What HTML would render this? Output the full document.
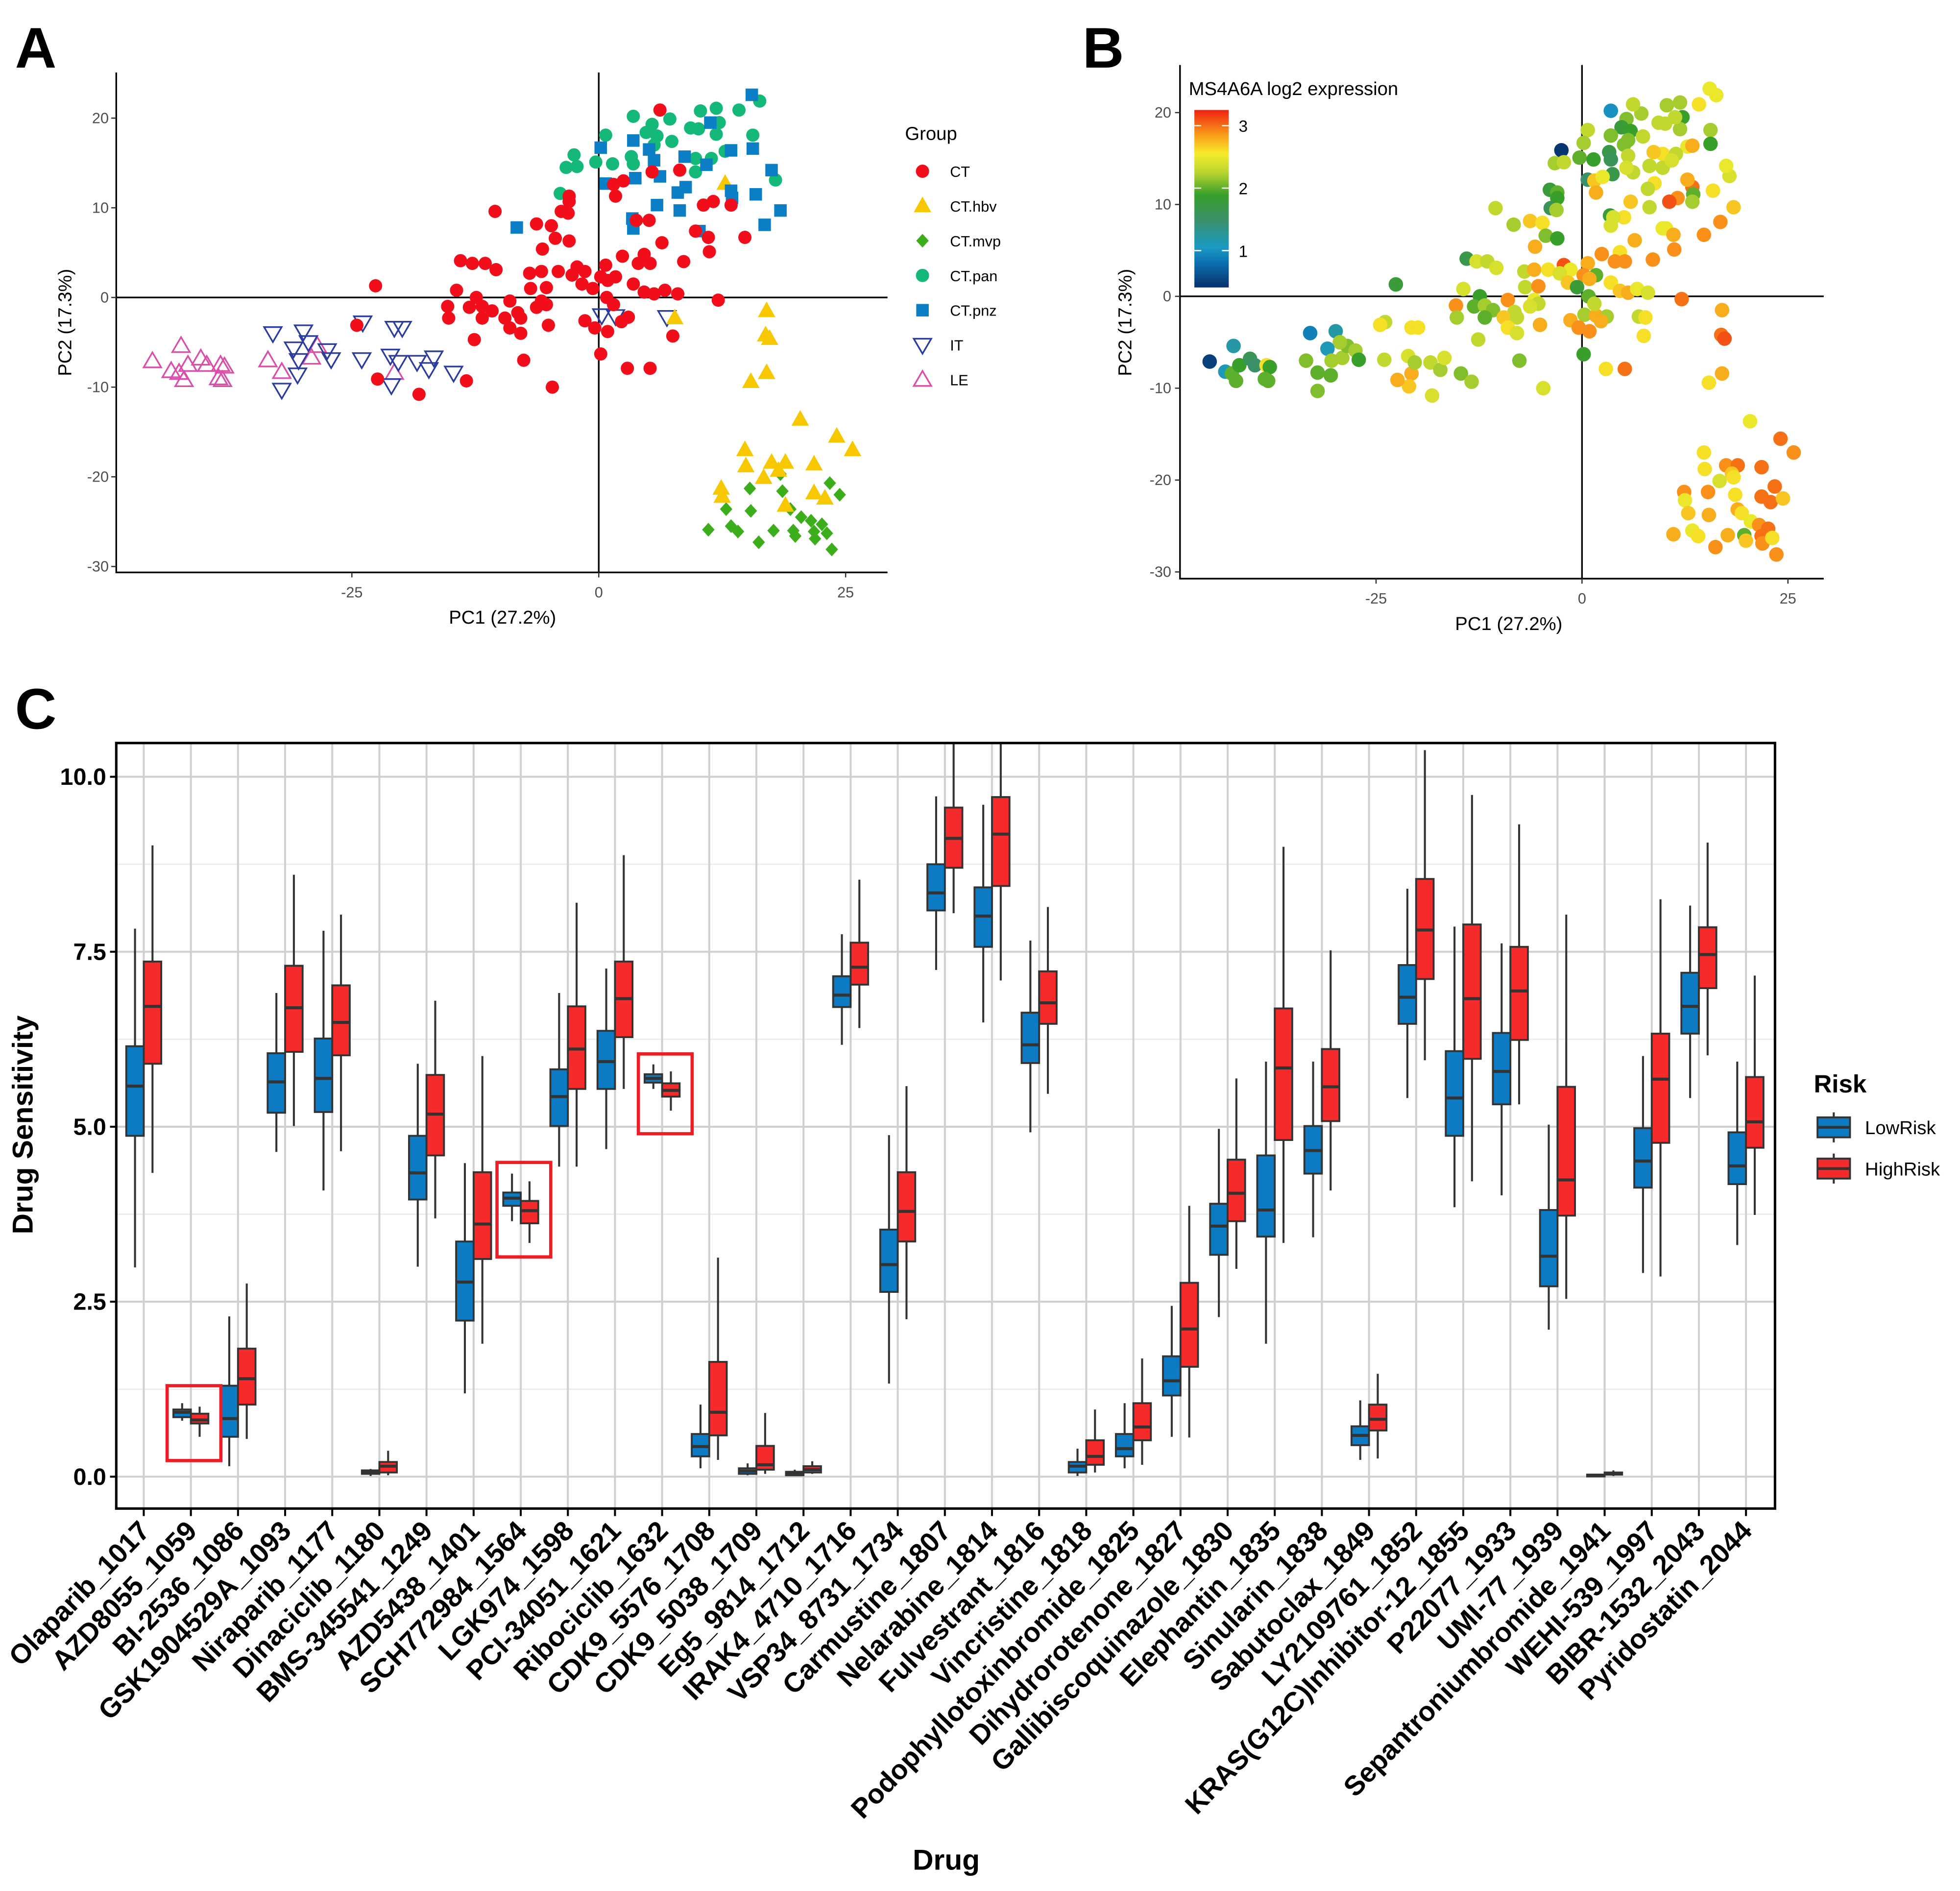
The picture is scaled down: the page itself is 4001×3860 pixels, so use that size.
<!DOCTYPE html>
<html><head><meta charset="utf-8"><style>
html,body{margin:0;padding:0;background:#fff;}
svg{display:block;font-family:"Liberation Sans",Arial,sans-serif;}
</style></head><body>
<svg id="fig" xmlns="http://www.w3.org/2000/svg" width="4001" height="3860" viewBox="0 0 1568 1513" preserveAspectRatio="none">
<rect x="0" y="0" width="1568" height="1513" fill="#fff"/>
<text x="12" y="54" font-size="46" font-weight="bold">A</text>
<text x="866" y="54" font-size="46" font-weight="bold">B</text>
<text x="12" y="583" font-size="46" font-weight="bold">C</text>
<g id="pa"></g>
<g id="pb"></g>
<g id="pc"></g>
</svg>
<script>
// ---------- Panel A/B data: [PC1, PC2, MS4A6A expression] ----------
const groupNames = ["CT","CT.hbv","CT.mvp","CT.pan","CT.pnz","IT","LE"];
const ptsCT = [[6.2,20.9,2.3],[-10.5,9.6,2.3],[-3,11.3,2.0],[-3,10.7,1.9],[-3.8,9.6,1.6],[-3.1,9.4,2.2],[-6.3,8.2,2.7],[-4.8,8,2.6],[-4.4,6.6,2.1],[-3,6.3,1.9],[-5.7,5.4,2.8],[1.5,12.6,2.7],[1.7,11.3,2.8],[2.5,13,2.5],[5.4,14,2.4],[8.2,14.2,2.3],[11.6,10.7,2.9],[10.6,10.3,3.1],[13.4,10.3,2.2],[9.8,7.4,2.5],[11.1,6.7,2.8],[14.8,6.7,2.9],[6.4,6.1,2.8],[11.2,5.1,2.9],[5.1,8.6,2.6],[3.8,8.6,2.4],[2.4,4.6,2.9],[4.6,4.8,2.6],[4,3.8,2.9],[5.2,3.8,2.9],[8.6,4,2.9],[-14,4.1,1.7],[-12.8,3.8,2.4],[-11.5,3.8,2.3],[-10.4,3.1,2.4],[-22.6,1.3,1.8],[-7,2.7,2.3],[-5.8,2.9,2.8],[-4.1,2.9,2.6],[-2.2,3.4,3.1],[-1.4,2.9,2.5],[-2.7,2.5,2.4],[0.7,3.6,2.8],[0.2,2.3,2.9],[1.7,2.3,2.0],[0.9,1.9,2.8],[-1.7,1.5,2.7],[-6.9,1,2.3],[-5.3,1.1,2.9],[-0.6,1,1.8],[3.5,1.5,2.6],[4.6,0.6,2.7],[5.6,0.4,2.8],[6.7,0.8,2.5],[8,0.4,2.4],[12.1,-0.3,3.0],[0.8,0,2.0],[-14.4,0.8,2.4],[-12.4,0,1.9],[-9,-0.4,2.9],[-5.8,-0.4,2.5],[-5.3,-0.8,2.3],[-15.3,-1,2.9],[-13.1,-1.1,2.0],[-11.8,-1,2.2],[-10.8,-1.5,2.1],[-8.2,-1.7,2.3],[-6.3,-1.1,2.4],[1.5,-0.8,2.3],[-15.2,-2.3,2.2],[-11.8,-2.3,2.0],[-9.5,-2.3,2.7],[-7.9,-2.3,2.3],[-5.1,-3.1,2.8],[-9,-3.4,2.6],[-7.9,-4,2.4],[-1.4,-2.6,2.8],[-0.4,-3.4,2.9],[0.9,-3.8,2.9],[3,-2.2,2.2],[2.3,-2.7,2.8],[7.5,-4.3,2.6],[-12.6,-4.7,2.3],[-24.5,-3.1,2.6],[0.2,-6.3,1.9],[-7.6,-7,2.1],[2.9,-7.9,2.6],[5.2,-7.9,3.0],[-22.4,-9.1,2.8],[-13.4,-9.3,2.2],[-4.7,-10,2.4],[-18.2,-10.8,2.4]];
const ptsPan = [[3.5,20.2,1.0],[10.3,20.8,2.2],[11.9,21.1,2.2],[14.2,20.9,2.6],[16.3,21.9,2.5],[5.4,19.3,2.1],[7.2,19.9,2.2],[9.3,18.9,2.3],[10.1,18.8,2.3],[12.2,19.5,1.9],[11.9,18.2,2.2],[15.6,18.1,2.2],[0.7,18.1,2.3],[4.8,18.4,1.8],[5.9,18,1.9],[7.4,17.4,2.3],[5.6,17,2.1],[12.8,16.3,2.5],[-2.5,15.9,0.45],[3.3,15.7,1.7],[9.8,15.5,2.6],[11.4,15.5,2.3],[-3.3,14.5,2.2],[-2.2,14.6,2.3],[-0.3,15.1,2.0],[1.4,14.9,1.9],[3.5,14.9,1.6],[9.8,14,2.3],[17.9,13.1,2.4],[-3.9,11.6,1.8]];
const ptsPnz = [[15.5,22.6,2.5],[11.3,19.5,2.3],[3.5,17.5,2.1],[0.2,16.7,2.2],[5.1,16.5,2.1],[5.6,15.3,2.3],[8.7,15.7,2.7],[13.4,16.4,2.8],[15.6,16.6,1.9],[10.9,14.8,2.4],[17.5,14.2,2.5],[0.7,12.7,1.5],[3.7,13.3,1.7],[6.2,13.5,2.3],[8.8,12.3,2.6],[8,11.7,2.3],[13.4,11.9,3.0],[13.5,11.1,2.0],[15.9,11.5,2.6],[5.9,10.3,2.7],[8.2,9.7,2.3],[18.4,9.7,2.7],[3.4,8.8,1.8],[3.5,7.7,2.4],[16.8,8.1,2.9],[10.2,7.4,2.5],[-8.3,7.8,2.2]];
const ptsHbv = [[12.8,12.7,2.8],[17,-1.5,2.8],[16.9,-4.2,3.0],[17.3,-4.6,3.1],[17,-8.4,2.8],[15.4,-9.4,2.6],[7.7,-2.3,2.6],[20.4,-13.6,2.5],[24.1,-15.5,3.0],[25.7,-17,2.9],[14.8,-17,2.6],[14.9,-18.8,2.6],[17.5,-18.4,2.9],[18.9,-18.4,3.0],[21.8,-18.6,3.0],[18.2,-19.3,2.7],[16.7,-20.1,2.4],[12.4,-21.3,2.9],[12.5,-22.2,2.5],[21.8,-21.8,3.0],[22.9,-22.4,3.0],[18.9,-23.2,2.8]];
const ptsMvp = [[23.4,-20.7,3.0],[24.4,-22,2.7],[15.3,-21.3,2.9],[18.6,-21.6,2.6],[18.4,-19.7,2.6],[12.9,-23.6,2.7],[15.4,-23.8,2.8],[19.4,-23.6,2.6],[20.5,-24.5,2.5],[21.5,-24.9,2.9],[22.6,-25.3,3.0],[11.1,-25.9,2.8],[13.4,-25.5,2.5],[14.1,-26.1,2.6],[17.7,-26,2.8],[19.7,-26,2.0],[19.9,-26.6,2.7],[21.8,-26.1,3.0],[21.9,-26.9,2.9],[23.1,-26.3,2.6],[16.2,-27.3,2.9],[23.6,-28.1,2.9]];
const ptsIT = [[-33,-4,0.9],[-29.9,-3.8,1.2],[-29.4,-5,2.2],[-30.9,-5.7,1.1],[-30.4,-7,2.2],[-27.5,-5.9,2.2],[-27.1,-6.9,1.9],[-30.5,-8.6,2.0],[-32.1,-10.3,2.1],[-23.9,-2.8,2.3],[-20.7,-3.4,2.6],[-19.9,-3.4,2.6],[-24,-6.9,2.3],[-21.1,-6.5,2.4],[-20.3,-7.2,2.2],[-18.4,-7.2,2.3],[-17.2,-8,2.2],[-16.7,-6.7,2.4],[-14.7,-8.4,2.1],[-21,-9.8,2.7],[0.3,-2,2.2],[1.7,-2.1,2.8],[6.9,-2.2,2.3]];
const ptsLE = [[-45.2,-7.1,0.5],[-42.3,-5.4,1.2],[-43.3,-8.2,1.1],[-42.5,-8.4,2.0],[-42,-9.2,2.0],[-41.6,-7.5,1.9],[-40.3,-6.8,1.6],[-39.7,-7.5,1.5],[-38.3,-7.5,2.6],[-37.9,-7.7,1.9],[-38.5,-9,2.0],[-38.1,-9.2,2.0],[-33.5,-7,2.1],[-32.1,-8.3,2.0],[-29.1,-6.7,2.2],[-28.5,-5.4,2.1],[-20.7,-8.4,2.8]];
const pcaXTicks = [-25,0,25];
const pcaYTicks = [-30,-20,-10,0,10,20];
const colorbarTicks = [1,2,3];

// ---------- Panel C data ----------
const drugs = ["Olaparib_1017","AZD8055_1059","BI-2536_1086","GSK1904529A_1093","Niraparib_1177","Dinaciclib_1180","BMS-345541_1249","AZD5438_1401","SCH772984_1564","LGK974_1598","PCI-34051_1621","Ribociclib_1632","CDK9_5576_1708","CDK9_5038_1709","Eg5_9814_1712","IRAK4_4710_1716","VSP34_8731_1734","Carmustine_1807","Nelarabine_1814","Fulvestrant_1816","Vincristine_1818","Podophyllotoxinbromide_1825","Dihydrorotenone_1827","Gallibiscoquinazole_1830","Elephantin_1835","Sinularin_1838","Sabutoclax_1849","LY2109761_1852","KRAS(G12C)Inhibitor-12_1855","P22077_1933","UMI-77_1939","Sepantroniumbromide_1941","WEHI-539_1997","BIBR-1532_2043","Pyridostatin_2044"];
const lowMin=[2.99,0.80,0.15,4.64,4.09,0.01,3.00,1.19,3.65,4.43,4.68,5.54,0.12,0.02,0.01,6.17,1.33,7.24,6.49,4.92,0.01,0.12,0.57,2.28,1.90,3.42,0.24,5.41,3.85,4.02,2.10,0.00,2.91,5.41,3.31];
const lowQ1=[4.87,0.85,0.57,5.20,5.21,0.04,3.96,2.23,3.87,5.01,5.54,5.63,0.29,0.04,0.02,6.71,2.64,8.09,7.57,5.91,0.06,0.29,1.16,3.17,3.43,4.33,0.45,6.47,4.87,5.32,2.72,0.01,4.13,6.33,4.18];
const lowMed=[5.58,0.92,0.83,5.64,5.69,0.06,4.34,2.78,3.98,5.43,5.93,5.69,0.43,0.08,0.04,6.88,3.03,8.34,8.01,6.17,0.15,0.40,1.37,3.58,3.81,4.66,0.59,6.85,5.41,5.79,3.15,0.02,4.51,6.72,4.44];
const lowQ3=[6.15,0.96,1.30,6.05,6.26,0.09,4.87,3.36,4.06,5.82,6.37,5.75,0.61,0.12,0.07,7.15,3.53,8.75,8.42,6.63,0.21,0.61,1.72,3.90,4.59,5.01,0.72,7.31,6.08,6.34,3.81,0.03,4.98,7.20,4.92];
const lowMax=[7.83,1.05,2.29,6.91,7.80,0.11,5.90,4.48,4.33,6.91,7.26,5.89,1.03,0.19,0.10,7.75,4.88,9.72,9.60,7.66,0.40,1.05,2.44,4.97,5.93,5.93,1.09,8.40,7.86,7.62,5.03,0.04,6.01,8.16,5.93];
const highMin=[4.34,0.57,0.54,5.01,4.65,0.02,3.69,1.90,3.34,4.43,5.54,5.23,0.24,0.04,0.04,6.41,2.25,8.05,7.09,5.47,0.06,0.17,0.56,2.97,3.34,4.09,0.26,5.95,4.22,5.32,2.54,0.01,2.86,6.02,3.74];
const highQ1=[5.90,0.76,1.03,6.07,6.02,0.06,4.59,3.11,3.62,5.54,6.28,5.43,0.59,0.10,0.06,7.03,3.36,8.70,8.44,6.47,0.17,0.52,1.57,3.65,4.81,5.08,0.66,7.11,5.97,6.24,3.73,0.03,4.77,6.98,4.70];
const highMed=[6.72,0.81,1.40,6.70,6.49,0.15,5.18,3.61,3.80,6.11,6.83,5.52,0.92,0.17,0.10,7.28,3.79,9.12,9.18,6.77,0.29,0.71,2.11,4.05,5.84,5.57,0.82,7.81,6.83,6.94,4.24,0.04,5.68,7.46,5.07];
const highQ3=[7.36,0.90,1.83,7.30,7.02,0.21,5.74,4.35,3.94,6.72,7.36,5.62,1.64,0.44,0.15,7.63,4.35,9.56,9.71,7.22,0.52,1.05,2.77,4.53,6.69,6.11,1.03,8.54,7.89,7.57,5.57,0.06,6.33,7.85,5.71];
const highMax=[9.02,1.00,2.76,8.60,8.03,0.37,6.80,6.01,4.22,8.20,8.88,5.79,3.13,0.91,0.22,8.53,5.58,10.6,10.6,8.14,0.96,1.69,3.87,5.69,9.00,7.52,1.47,10.38,9.74,9.32,8.03,0.09,8.25,9.06,7.16];
const yTicksC = [0,2.5,5,7.5,10];
const yTickLabelsC = ["0.0","2.5","5.0","7.5","10.0"];
const highlightIdx = [1,8,11];
const highlightTop = [1.3,4.49,6.04];
const highlightBottom = [0.23,3.14,4.9];

const NS='http://www.w3.org/2000/svg';
function mk(tag, attrs, parent){const e=document.createElementNS(NS,tag);for(const k in attrs)e.setAttribute(k,attrs[k]);parent.appendChild(e);return e;}
const pa=document.getElementById('pa'), pb=document.getElementById('pb'), pc=document.getElementById('pc');

// ===== Panel A =====
const ax=v=>479+7.9*v, ay=v=>238-7.175*v;
function marker(shape, x, y, parent){
  let el;
  if(shape==='circle'||shape==='circle2'){el=mk('circle',{cx:x,cy:y,r:5.3,fill:shape==='circle'?'#f20d1a':'#14b878'},parent);}
  else if(shape==='tri'){el=mk('polygon',{points:`${x},${y-7.5} ${x+7},${y+5} ${x-7},${y+5}`,fill:'#f7c800'},parent);}
  else if(shape==='diamond'){el=mk('polygon',{points:`${x},${y-5.5} ${x+5},${y} ${x},${y+5.5} ${x-5},${y}`,fill:'#3cae1c'},parent);}
  else if(shape==='square'){el=mk('rect',{x:x-5,y:y-5,width:10,height:10,fill:'#0b7ec6'},parent);}
  else if(shape==='down'){el=mk('polygon',{points:`${x-7},${y-5} ${x+7},${y-5} ${x},${y+7}`,fill:'none',stroke:'#2a3c9c','stroke-width':1.3},parent);}
  else {el=mk('polygon',{points:`${x},${y-7} ${x+7},${y+5} ${x-7},${y+5}`,fill:'none',stroke:'#d94fa8','stroke-width':1.3},parent);}
  return el;
}
const groupsA=[[ptsLE,'up'],[ptsIT,'down'],[ptsMvp,'diamond'],[ptsHbv,'tri'],[ptsPan,'circle2'],[ptsPnz,'square'],[ptsCT,'circle']];
let l=mk('line',{x1:ax(0),y1:58,x2:ax(0),y2:458,stroke:'#000','stroke-width':1.3},pa);


l=mk('line',{x1:93,y1:ay(0),x2:710,y2:ay(0),stroke:'#000','stroke-width':1.3},pa);


groupsA.forEach(g=>{g[0].forEach(p=>{const m=marker(g[1],ax(p[0]),ay(p[1]),pa);

});});
l=mk('path',{d:'M93,58 V458 H710',fill:'none',stroke:'#000','stroke-width':1.3},pa);


pcaXTicks.forEach(t=>{const tk=mk('line',{x1:ax(t),y1:458,x2:ax(t),y2:462,stroke:'#333'},pa);


const tx=mk('text',{x:ax(t),y:478,'font-size':12,fill:'#4d4d4d','text-anchor':'middle'},pa);tx.textContent=t;

});
pcaYTicks.forEach(t=>{const tk=mk('line',{x1:89,y1:ay(t),x2:93,y2:ay(t),stroke:'#333'},pa);


const tx=mk('text',{x:87,y:ay(t)+4,'font-size':12,fill:'#4d4d4d','text-anchor':'end'},pa);tx.textContent=t;

});
let t=mk('text',{x:402,y:499,'font-size':15,'text-anchor':'middle'},pa);t.textContent='PC1 (27.2%)';


t=mk('text',{x:0,y:0,'font-size':15,'text-anchor':'middle',transform:'translate(57,258) rotate(-90)'},pa);t.textContent='PC2 (17.3%)';


t=mk('text',{x:724,y:112,'font-size':15},pa);t.textContent='Group';


const legShapes=['circle','tri','diamond','circle2','square','down','up'];
groupNames.forEach((n,i)=>{const y=137+i*27.8;const m=marker(legShapes[i],738,y,pa);


const tx=mk('text',{x:760,y:y+4.5,'font-size':12},pa);tx.textContent=n;

});

// ===== Panel B =====
const bx=v=>1265.6+6.59*v, by=v=>237.1-7.35*v;
const cStops=[[0.41,[8,48,107]],[0.8,[11,111,176]],[1.05,[27,154,196]],[1.5,[58,144,104]],[1.9,[56,160,42]],[2.25,[184,212,48]],[2.55,[245,236,42]],[2.85,[249,160,26]],[3.26,[240,32,16]]];
function ecol(v){if(v<=cStops[0][0])return `rgb(${cStops[0][1]})`;for(let i=1;i<cStops.length;i++){if(v<=cStops[i][0]){const a=cStops[i-1],b=cStops[i],f=(v-a[0])/(b[0]-a[0]);return 'rgb('+a[1].map((c,k)=>Math.round(c+(b[1][k]-c)*f)).join(',')+')';}}return `rgb(${cStops[cStops.length-1][1]})`;}
l=mk('line',{x1:bx(0),y1:52,x2:bx(0),y2:463,stroke:'#000','stroke-width':1.3},pb);


l=mk('line',{x1:944,y1:by(0),x2:1459,y2:by(0),stroke:'#000','stroke-width':1.3},pb);


[ptsLE,ptsIT,ptsPan,ptsPnz,ptsCT,ptsHbv,ptsMvp].forEach(g=>g.forEach(p=>{const c=mk('circle',{cx:bx(p[0]),cy:by(p[1]),r:5.8,fill:ecol(p[2])},pb);

}));
l=mk('path',{d:'M944,52 V463 H1459',fill:'none',stroke:'#000','stroke-width':1.3},pb);


pcaXTicks.forEach(v=>{const tk=mk('line',{x1:bx(v),y1:463,x2:bx(v),y2:467,stroke:'#333'},pb);


const tx=mk('text',{x:bx(v),y:483,'font-size':12,fill:'#4d4d4d','text-anchor':'middle'},pb);tx.textContent=v;

});
pcaYTicks.forEach(v=>{const tk=mk('line',{x1:940,y1:by(v),x2:944,y2:by(v),stroke:'#333'},pb);


const tx=mk('text',{x:937,y:by(v)+4,'font-size':12,fill:'#4d4d4d','text-anchor':'end'},pb);tx.textContent=v;

});
t=mk('text',{x:1207,y:504,'font-size':15,'text-anchor':'middle'},pb);t.textContent='PC1 (27.2%)';


t=mk('text',{x:0,y:0,'font-size':15,'text-anchor':'middle',transform:'translate(905,258) rotate(-90)'},pb);t.textContent='PC2 (17.3%)';


t=mk('text',{x:951,y:76,'font-size':15},pb);t.textContent='MS4A6A log2 expression';


const defs=mk('defs',{},pb);
const lg=mk('linearGradient',{id:'cbar',x1:0,y1:1,x2:0,y2:0},defs);
cStops.forEach(s=>{mk('stop',{offset:((s[0]-0.41)/(3.26-0.41)).toFixed(3),'stop-color':`rgb(${s[1]})`},lg);});
const cbY=v=>230-(v-0.41)*50;
l=mk('rect',{x:955.5,y:88,width:27.5,height:142,fill:'url(#cbar)'},pb);


colorbarTicks.forEach(v=>{const tk=mk('line',{x1:955.5,y1:cbY(v),x2:961,y2:cbY(v),stroke:'#fff','stroke-width':1},pb);


const tk2=mk('line',{x1:977.5,y1:cbY(v),x2:983,y2:cbY(v),stroke:'#fff','stroke-width':1},pb);


const tx=mk('text',{x:991,y:cbY(v)+5,'font-size':13},pb);tx.textContent=v;

});

// ===== Panel C =====
const cx=i=>115+37.7*i, cy=v=>1181.5-56*v;
const L=93,R=1420,T=594.5,B=1207;
const cp=mk('clipPath',{id:'cclip'},defs);mk('rect',{x:L,y:T,width:R-L,height:B-T},cp);
for(let v=1.25;v<10.5;v+=2.5){const g=mk('line',{x1:L,y1:cy(v),x2:R,y2:cy(v),stroke:'#ebebeb','stroke-width':1},pc);

}
yTicksC.forEach(v=>{const g=mk('line',{x1:L,y1:cy(v),x2:R,y2:cy(v),stroke:'#d0d0d0','stroke-width':1.6},pc);

});
drugs.forEach((d,i)=>{const g=mk('line',{x1:cx(i),y1:T,x2:cx(i),y2:B,stroke:'#d0d0d0','stroke-width':1.6},pc);

});
const bw=14;
const boxes=mk('g',{'clip-path':'url(#cclip)'},pc);


function drawBox(x0,mn,q1,md,q3,mx,fill,name){
  const w=mk('line',{x1:x0+bw/2,y1:cy(mn),x2:x0+bw/2,y2:cy(mx),stroke:'#333','stroke-width':1.6},boxes);
  
  
  const r=mk('rect',{x:x0,y:cy(q3),width:bw,height:Math.max(cy(q1)-cy(q3),1.5),fill:fill,stroke:'#333','stroke-width':1.5},boxes);
  
  
  const m=mk('line',{x1:x0,y1:cy(md),x2:x0+bw,y2:cy(md),stroke:'#333','stroke-width':2.4},boxes);
  
  
}
drugs.forEach((d,i)=>{
  drawBox(cx(i)-bw,lowMin[i],lowQ1[i],lowMed[i],lowQ3[i],lowMax[i],'#0d7bc4','box-lowrisk');
  drawBox(cx(i),highMin[i],highQ1[i],highMed[i],highQ3[i],highMax[i],'#f52a2a','box-highrisk');
});
highlightIdx.forEach((d,k)=>{const h=mk('rect',{x:cx(d)-19,y:cy(highlightTop[k]),width:43,height:cy(highlightBottom[k])-cy(highlightTop[k]),fill:'none',stroke:'#ee1c25','stroke-width':2.6},pc);

});
l=mk('rect',{x:L,y:T,width:R-L,height:B-T,fill:'none',stroke:'#000','stroke-width':2},pc);


yTicksC.forEach((v,k)=>{const tk=mk('line',{x1:L-5,y1:cy(v),x2:L,y2:cy(v),stroke:'#000','stroke-width':1.6},pc);


const tx=mk('text',{x:L-8,y:cy(v)+6.5,'font-size':19,'font-weight':'bold','text-anchor':'end'},pc);tx.textContent=yTickLabelsC[k];

});
drugs.forEach((d,i)=>{const tk=mk('line',{x1:cx(i),y1:B,x2:cx(i),y2:B+6,stroke:'#000','stroke-width':1.6},pc);


const tx=mk('text',{x:0,y:0,'font-size':22,'font-weight':'bold','text-anchor':'end',transform:`translate(${cx(i)+6},${B+19}) rotate(-46)`},pc);tx.textContent=d;

});
t=mk('text',{x:757,y:1496,'font-size':23,'font-weight':'bold','text-anchor':'middle'},pc);t.textContent='Drug';


t=mk('text',{x:0,y:0,'font-size':23,'font-weight':'bold','text-anchor':'middle',transform:'translate(26,900) rotate(-90)'},pc);t.textContent='Drug Sensitivity';


t=mk('text',{x:1451,y:874,'font-size':20,'font-weight':'bold'},pc);t.textContent='Risk';


[['LowRisk','#0d7bc4',902],['HighRisk','#f52a2a',935]].forEach(e=>{
  const k=mk('g',{},pc);
  
  
  mk('line',{x1:1467,y1:e[2]-12,x2:1467,y2:e[2]+12,stroke:'#333','stroke-width':1.6},k);
  mk('rect',{x:1454,y:e[2]-8,width:26,height:16,fill:e[1],stroke:'#333','stroke-width':1.5},k);
  mk('line',{x1:1454,y1:e[2],x2:1480,y2:e[2],stroke:'#333','stroke-width':2.2},k);
  const tx=mk('text',{x:1492,y:e[2]+5.5,'font-size':15},pc);tx.textContent=e[0];
  
  
});
</script>
</body></html>
